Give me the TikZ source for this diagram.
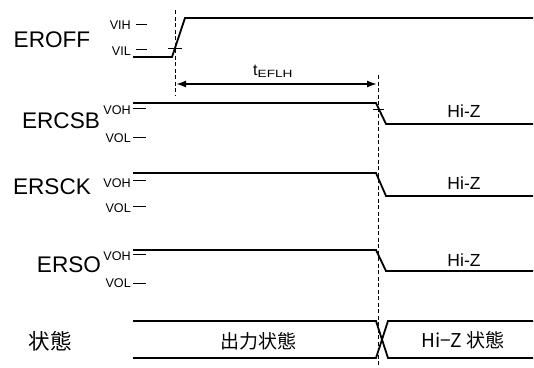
\documentclass[tikz,border=0pt]{standalone}
\usepackage{fontspec}
\setmainfont{Liberation Sans}
\newfontfamily\cjk{Noto Sans CJK JP}
\usetikzlibrary{arrows.meta}
\tikzset{
  sig/.style={line width=1.8pt, line join=miter},
  lvmark/.style={line width=1pt},
  guide/.style={line width=0.9pt, dash pattern=on 4pt off 2.5pt},
  tickm/.style={line width=1pt},
  meas/.style={line width=1.7pt, {Latex[length=10pt,width=7pt]}-{Latex[length=10pt,width=7pt]}},
  signame/.style={inner sep=0pt, anchor=base, font=\fontsize{22.6}{22.6}\selectfont},
  lvtext/.style={inner sep=0pt, anchor=base east, font=\fontsize{12.6}{12.6}\selectfont},
  hiz/.style={inner sep=0pt, anchor=base, font=\fontsize{17.5}{17.5}\selectfont},
  stname/.style={inner sep=0pt, anchor=center, font=\cjk\fontsize{21.5}{21.5}\selectfont},
  sttext/.style={inner sep=0pt, anchor=center, font=\cjk\fontsize{19}{19}\selectfont}
}
\begin{document}
\begin{tikzpicture}[x=1pt,y=-1pt]
\useasboundingbox (0,0) rectangle (534,367);

% ---------------- EROFF
\node[signame] (neroff) at (52,47) {EROFF};
\node[lvtext] (vih) at (131,29) {VIH};
\node[lvtext] (vil) at (131,55) {VIL};
\draw[lvmark] (vih.base east) ++(5,-5) coordinate (vihA) -- ++(11,0) coordinate (vihB);
\draw[lvmark] (vil.base east) ++(5,-5.5) coordinate (vilA) -- ++(11,0) coordinate (vilB);
\draw[sig] (133,57) -- (172,57) -- (185,18) -- (533,18);
\coordinate (g1t) at (175,10);
\coordinate (g1b) at (175,95);
\draw[guide] (g1t) -- (g1b);
\draw[tickm] (168,48) -- (182,48);

% measurement
\coordinate (mA) at (176,84);
\coordinate (mB) at (377,84);
\draw[meas] (mA) -- (mB);
\node[inner sep=0pt, anchor=base west] (tef) at (253,75)
  {\fontsize{16}{16}\selectfont t\raisebox{-2pt}{\fontsize{10.5}{10.5}\selectfont\scalebox{1.3}[1]{EFLH}}};

\coordinate (g2t) at (378,75);
\coordinate (g2b) at (378,367);
\draw[guide] (g2t) -- (g2b);

% ---------------- ERCSB
\node[signame] (ncsb) at (61,128) {ERCSB};
\node[lvtext] (csbh) at (131,114) {VOH};
\node[lvtext] (csbl) at (131,142) {VOL};
\draw[lvmark] (133,108) -- (146,108);
\draw[lvmark] (133,137) -- (146,137);
\draw[sig] (133,103) -- (376,103) -- (386,124) -- (533,124);
\draw[tickm] (373,109) -- (384,109);
\node[hiz] (hz1) at (464,117) {Hi-Z};

% ---------------- ERSCK
\node[signame] (nsck) at (52,194) {ERSCK};
\node[lvtext] (sckh) at (131,187) {VOH};
\node[lvtext] (sckl) at (131,212) {VOL};
\draw[lvmark] (133,180) -- (146,180);
\draw[lvmark] (133,206) -- (146,206);
\draw[sig] (133,173) -- (376,173) -- (386,196) -- (533,196);
\node[hiz] (hz2) at (464,189) {Hi-Z};

% ---------------- ERSO
\node[signame] (nso) at (69,272) {ERSO};
\node[lvtext] (soh) at (131,260) {VOH};
\node[lvtext] (sol) at (131,287) {VOL};
\draw[lvmark] (133,254) -- (146,254);
\draw[lvmark] (133,283) -- (146,283);
\draw[sig] (133,250) -- (376,250) -- (386,271) -- (533,271);
\node[hiz] (hz3) at (464,266) {Hi-Z};

% ---------------- state
\node[stname] (nst) at (50,341) {状態};
\draw[sig] (133,321) -- (376,321) -- (388,358) -- (533,358);
\draw[sig] (133,358) -- (376,358) -- (388,321) -- (533,321);
\node[sttext] (st1) at (258,341) {出力状態};
\node[sttext] (st2) at (463,340) {Hi−Z 状態};
\end{tikzpicture}
\end{document}
